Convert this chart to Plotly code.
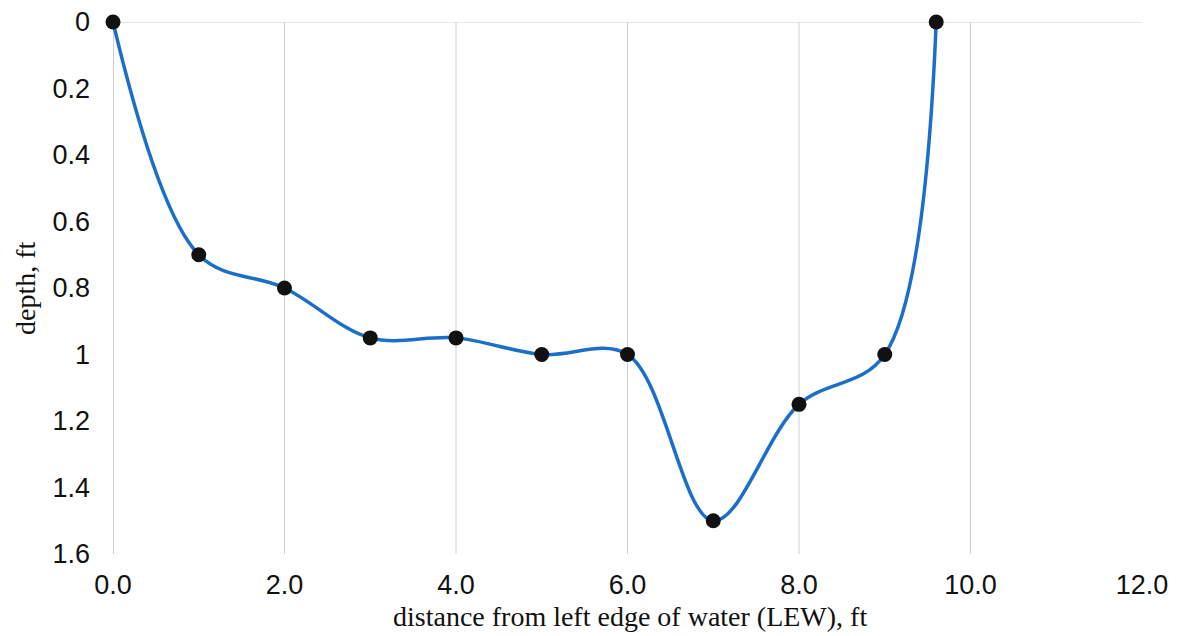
import plotly.graph_objects as go

distance = [0.0, 1.0, 2.0, 3.0, 4.0, 5.0, 6.0, 7.0, 8.0, 9.0, 9.6]
depth = [0.0, 0.70, 0.80, 0.95, 0.95, 1.0, 1.0, 1.5, 1.15, 1.0, 0.0]
x_ticks = [0, 2, 4, 6, 8, 10, 12]
x_ticklabels = ["0.0", "2.0", "4.0", "6.0", "8.0", "10.0", "12.0"]
y_ticks = [0, 0.2, 0.4, 0.6, 0.8, 1.0, 1.2, 1.4, 1.6]
y_ticklabels = ["0", "0.2", "0.4", "0.6", "0.8", "1", "1.2", "1.4", "1.6"]
x_grid = [2, 4, 6, 8, 10]
x_title = "distance from left edge of water (LEW), ft"
y_title = "depth, ft"

fig = go.Figure()
fig.add_trace(go.Scatter(
    x=distance, y=depth, mode="lines+markers",
    line=dict(color="#1b6fc8", width=3.5, shape="spline", smoothing=1.0),
    marker=dict(color="#111111", size=15),
    cliponaxis=False,
    showlegend=False,
))

grid_color = "#d0d0d0"
for gx in x_grid:
    fig.add_shape(type="line", xref="x", yref="y", x0=gx, x1=gx, y0=0, y1=1.6,
                  line=dict(color=grid_color, width=1), layer="below")
# horizontal line at depth 0 and left axis line
fig.add_shape(type="line", xref="x", yref="y", x0=0, x1=12, y0=0, y1=0,
              line=dict(color=grid_color, width=1), layer="below")
fig.add_shape(type="line", xref="x", yref="y", x0=0, x1=0, y0=0, y1=1.6,
              line=dict(color="#a0a0a0", width=1), layer="below")

tick_font = dict(family="Liberation Sans, Arial, sans-serif", size=27, color="#111111")
title_font = dict(family="Liberation Serif, Times New Roman, serif", size=28, color="#111111")

fig.add_annotation(text=x_title, xref="paper", yref="paper", x=0.502, y=-0.118,
                   xanchor="center", yanchor="middle", showarrow=False, font=title_font)
fig.add_annotation(text=y_title, xref="paper", yref="paper", x=-0.0855, y=0.5,
                   xanchor="center", yanchor="middle", textangle=-90, showarrow=False, font=title_font)

fig.update_layout(
    width=1179, height=636,
    margin=dict(l=113, r=37, t=22, b=82, autoexpand=False),
    paper_bgcolor="white", plot_bgcolor="white",
    xaxis=dict(range=[0, 12], tickvals=x_ticks, ticktext=x_ticklabels,
               showgrid=False, zeroline=False, showline=False, ticks="",
               tickfont=tick_font, ticklabelstandoff=12, automargin=False),
    yaxis=dict(range=[1.6, 0], tickvals=y_ticks, ticktext=y_ticklabels,
               showgrid=False, zeroline=False, showline=False, ticks="",
               tickfont=tick_font, ticklabelstandoff=22, automargin=False),
)

fig.write_html("out.html")
